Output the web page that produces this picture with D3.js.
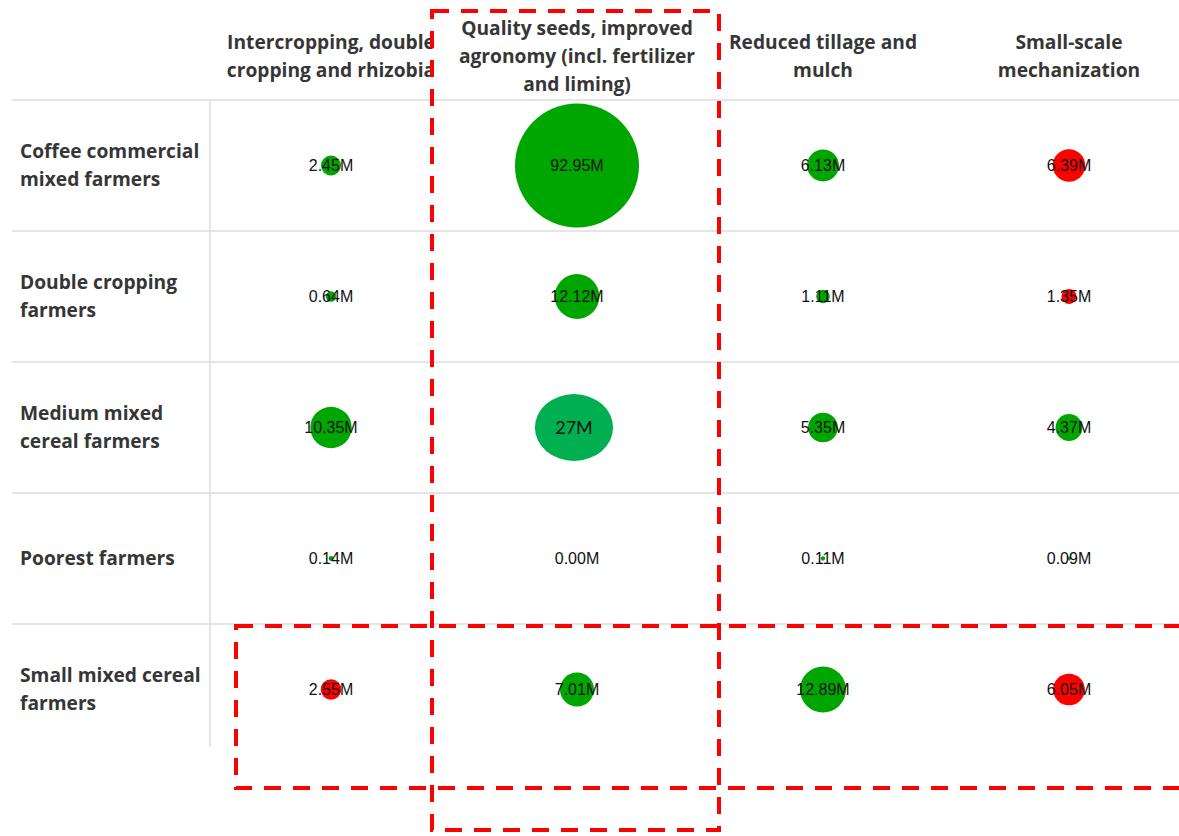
<!DOCTYPE html>
<html>
<head>
<meta charset="utf-8">
<script src="https://cdn.jsdelivr.net/npm/d3@7"></script>
<style>
  html, body { margin: 0; padding: 0; background: #fff; }
  svg { display: block; }
</style>
</head>
<body>
<svg id="chart" width="1179" height="836"></svg>
<script>
// Practices (columns), each header wrapped onto lines
const practices = [
  "Intercropping, double cropping and rhizobia",
  "Quality seeds, improved agronomy (incl. fertilizer and liming)",
  "Reduced tillage and mulch",
  "Small-scale mechanization"
];
const practiceLines = [
  ["Intercropping, double", "cropping and rhizobia"],
  ["Quality seeds, improved", "agronomy (incl. fertilizer", "and liming)"],
  ["Reduced tillage and", "mulch"],
  ["Small-scale", "mechanization"]
];

// Farmer types (rows)
const farmerTypes = [
  "Coffee commercial mixed farmers",
  "Double cropping farmers",
  "Medium mixed cereal farmers",
  "Poorest farmers",
  "Small mixed cereal farmers"
];
const farmerLines = [
  ["Coffee commercial", "mixed farmers"],
  ["Double cropping", "farmers"],
  ["Medium mixed", "cereal farmers"],
  ["Poorest farmers"],
  ["Small mixed cereal", "farmers"]
];

// Values in millions, one array per practice, ordered as farmerTypes
const intercropping  = [2.45, 0.64, 10.35, 0.14, 2.55];
const qualitySeeds   = [92.95, 12.12, 27, 0.00, 7.01];
const reducedTillage = [6.13, 1.11, 5.35, 0.11, 12.89];
const mechanization  = [6.39, 1.35, 4.37, 0.09, 6.05];

// Direction of effect: "+" gain, "-" loss
const intercroppingEffect  = ["+", "+", "+", "+", "-"];
const qualitySeedsEffect   = ["+", "+", "+", "+", "+"];
const reducedTillageEffect = ["+", "+", "+", "+", "+"];
const mechanizationEffect  = ["-", "-", "+", "+", "-"];

// Cell revised by hand (value written as a plain figure)
const revisedCell = { practice: practices[1], farmer: farmerTypes[2] };

const valueSets  = [intercropping, qualitySeeds, reducedTillage, mechanization];
const effectSets = [intercroppingEffect, qualitySeedsEffect, reducedTillageEffect, mechanizationEffect];

const cells = [];
practices.forEach((p, i) => {
  farmerTypes.forEach((f, j) => {
    cells.push({ practice: p, farmer: f, value: valueSets[i][j], effect: effectSets[i][j],
                 revised: p === revisedCell.practice && f === revisedCell.farmer });
  });
});

const svg = d3.select("#chart");
const headerColor = "#363636";
const gridColor = "#dcdcdc";
const headerFont = 19.2;

const x = d3.scaleBand().domain(practices).range([208, 1192]);
const y = d3.scaleBand().domain(farmerTypes).range([100, 755]);
const r = d3.scaleSqrt().domain([0, d3.max(valueSets.flat())]).range([0, 62]);
const color = d3.scaleOrdinal().domain(["+", "-"]).range(["#00a600", "#ff0000"]);

// Grid lines
const grid = svg.append("g");
grid.selectAll("line.h")
  .data(farmerTypes)
  .join("line")
  .attr("class", "h")
  .attr("x1", 12).attr("x2", 1179)
  .attr("y1", d => y(d)).attr("y2", d => y(d))
  .attr("stroke", gridColor).attr("stroke-width", 1.5);
grid.append("line")
  .attr("x1", 210).attr("x2", 210)
  .attr("y1", y.range()[0]).attr("y2", y.range()[1] - 8)
  .attr("stroke", gridColor).attr("stroke-width", 1.5);

// Column headers
const lineH = 28;
svg.append("g").selectAll("text")
  .data(practices)
  .join("text")
  .attr("x", d => x(d) + x.bandwidth() / 2)
  .attr("text-anchor", "middle")
  .attr("font-family", "'Open Sans', sans-serif")
  .attr("font-weight", 700)
  .attr("font-size", headerFont)
  .attr("fill", headerColor)
  .each(function (d, i) {
    const lines = practiceLines[i];
    const top = 56 - (lines.length - 1) * lineH / 2;
    d3.select(this).selectAll("tspan")
      .data(lines)
      .join("tspan")
      .attr("x", x(d) + x.bandwidth() / 2)
      .attr("y", (l, k) => top + k * lineH + 6.5)
      .text(l => l);
  });

// Row headers
svg.append("g").selectAll("text")
  .data(farmerTypes)
  .join("text")
  .attr("font-family", "'Open Sans', sans-serif")
  .attr("font-weight", 700)
  .attr("font-size", headerFont)
  .attr("fill", headerColor)
  .each(function (d, i) {
    const lines = farmerLines[i];
    const mid = y(d) + y.bandwidth() / 2;
    const top = mid - (lines.length - 1) * lineH / 2;
    d3.select(this).selectAll("tspan")
      .data(lines)
      .join("tspan")
      .attr("x", 20)
      .attr("y", (l, k) => top + k * lineH + 6.5)
      .text(l => l);
  });

// Bubbles
const cellG = svg.append("g").selectAll("g")
  .data(cells)
  .join("g")
  .attr("transform", d => `translate(${x(d.practice) + x.bandwidth() / 2},${y(d.farmer) + y.bandwidth() / 2})`);

cellG.filter(d => !d.revised).append("circle")
  .attr("r", d => r(d.value))
  .attr("fill", d => color(d.effect));

cellG.filter(d => d.revised).append("ellipse")
  .attr("cx", -3)
  .attr("rx", d => r(d.value) * 1.17)
  .attr("ry", d => r(d.value))
  .attr("fill", "#00b050");

cellG.append("text")
  .attr("text-anchor", "middle")
  .attr("x", d => d.revised ? -3 : 0)
  .attr("y", d => d.revised ? 6.5 : 5.5)
  .attr("font-family", d => d.revised ? "Lato, sans-serif" : "'Liberation Sans', Arial, sans-serif")
  .attr("font-size", d => d.revised ? 18 : 16)
  .attr("fill", "#111")
  .text(d => d.revised ? d3.format("d")(d.value) + "M" : d3.format(".2f")(d.value) + "M");

// Dashed highlight frames
const frames = svg.append("g")
  .attr("fill", "none")
  .attr("stroke", "#ff0000")
  .attr("stroke-width", 4)
  .attr("stroke-dasharray", "17,12");

frames.append("rect")
  .attr("x", x(practices[1]) - 22)
  .attr("y", 11)
  .attr("width", x.bandwidth() + 41)
  .attr("height", 819);

frames.append("rect")
  .attr("x", x(practices[0]) + 28)
  .attr("y", y(farmerTypes[4]) + 2)
  .attr("width", 1000)
  .attr("height", y.bandwidth() + 31);
</script>
</body>
</html>
